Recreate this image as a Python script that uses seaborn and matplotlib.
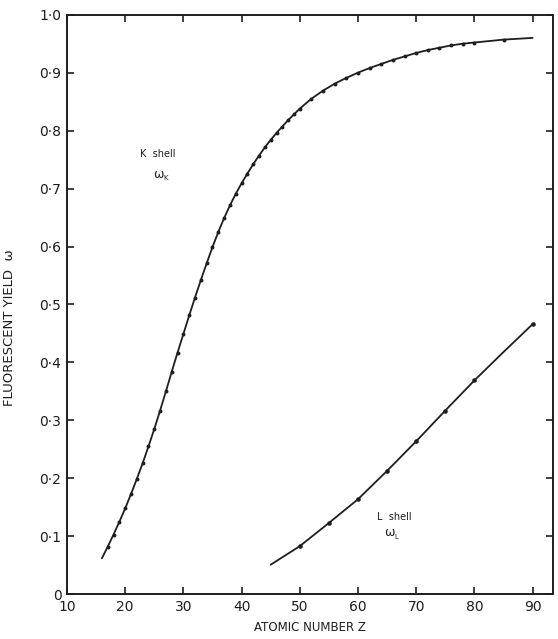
import matplotlib
matplotlib.use("Agg")
import matplotlib.pyplot as plt
import seaborn as sns
import numpy as np

# K-shell fluorescence yield
k_z = [16, 17, 18, 19, 20, 21, 22, 23, 24, 25, 26, 27, 28, 29, 30, 31, 32, 33, 34, 35,
       36, 37, 38, 39, 40, 41, 42, 43, 44, 45, 46, 47, 48, 49, 50,
       52, 54, 56, 58, 60, 62, 64, 66, 68, 70, 72, 74, 76, 78, 80, 85, 90]
k_w = [0.062, 0.082, 0.103, 0.125, 0.148, 0.173, 0.199, 0.226, 0.255, 0.285, 0.317, 0.350,
       0.384, 0.417, 0.449, 0.481, 0.512, 0.542, 0.571, 0.599,
       0.625, 0.649, 0.671, 0.691, 0.709, 0.726, 0.742, 0.757, 0.771, 0.784, 0.796, 0.807,
       0.818, 0.828, 0.838,
       0.855, 0.869, 0.881, 0.891, 0.900, 0.908, 0.915, 0.922, 0.928, 0.934, 0.939, 0.943,
       0.947, 0.950, 0.952, 0.957, 0.960]

# L-shell fluorescence yield
l_z = [45, 50, 55, 60, 65, 70, 75, 80, 85, 90]
l_w = [0.051, 0.083, 0.123, 0.164, 0.213, 0.264, 0.317, 0.369, 0.418, 0.466]
l_dot = [False, True, True, True, True, True, True, True, False, True]

x_ticks = [10, 20, 30, 40, 50, 60, 70, 80, 90]
x_ticklabels = ["10", "20", "30", "40", "50", "60", "70", "80", "90"]
y_ticks = [0.0, 0.1, 0.2, 0.3, 0.4, 0.5, 0.6, 0.7, 0.8, 0.9, 1.0]
y_ticklabels = ["0", "0·1", "0·2", "0·3", "0·4", "0·5", "0·6", "0·7", "0·8", "0·9", "1·0"]

sns.set_theme(style="ticks")
plt.rcParams["font.family"] = ["DejaVu Sans"]

ink = "#1e1e1e"
fig = plt.figure(figsize=(5.58, 6.39), dpi=100)
ax = fig.add_axes([0.120, 0.070, 0.871, 0.907])

# K shell
sns.lineplot(x=k_z, y=k_w, ax=ax, color=ink, linewidth=1.3, sort=False)
sns.scatterplot(x=k_z[1:-1], y=k_w[1:-1], ax=ax, color=ink, s=8, linewidth=0, zorder=3)
# L shell
sns.lineplot(x=l_z, y=l_w, ax=ax, color=ink, linewidth=1.3, sort=False)
lx = [z for z, d in zip(l_z, l_dot) if d]
ly = [w for w, d in zip(l_w, l_dot) if d]
sns.scatterplot(x=lx, y=ly, ax=ax, color=ink, s=11, linewidth=0, zorder=3)

ax.set_xlim(10, 93.5)
ax.set_ylim(0, 1.0)
ax.set_xticks(x_ticks)
ax.set_xticklabels(x_ticklabels)
ax.set_yticks(y_ticks)
ax.set_yticklabels(y_ticklabels)

ax.tick_params(direction="in", length=5, width=1.2, color=ink, labelcolor=ink,
               labelsize=10, top=True, right=True, pad=4)
for sp in ax.spines.values():
    sp.set_visible(True)
    sp.set_linewidth(1.4)
    sp.set_color(ink)

ax.set_xlabel("ATOMIC NUMBER Z", fontsize=8.5, color=ink, labelpad=5)
ax.set_ylabel("FLUORESCENT YIELD  ω", fontsize=9.5, color=ink)
ax.yaxis.set_label_coords(-0.105, 0.46)

ax.text(22.6, 0.755, "K  shell", fontsize=7, color=ink)
ax.text(24.8, 0.718, "ω", fontsize=9, color=ink)
ax.text(26.6, 0.714, "K", fontsize=5, color=ink)

ax.text(63.2, 0.128, "L  shell", fontsize=7, color=ink)
ax.text(64.5, 0.1, "ω", fontsize=9, color=ink)
ax.text(66.3, 0.096, "L", fontsize=5, color=ink)

fig.savefig("out.png", dpi=100, facecolor="white")
